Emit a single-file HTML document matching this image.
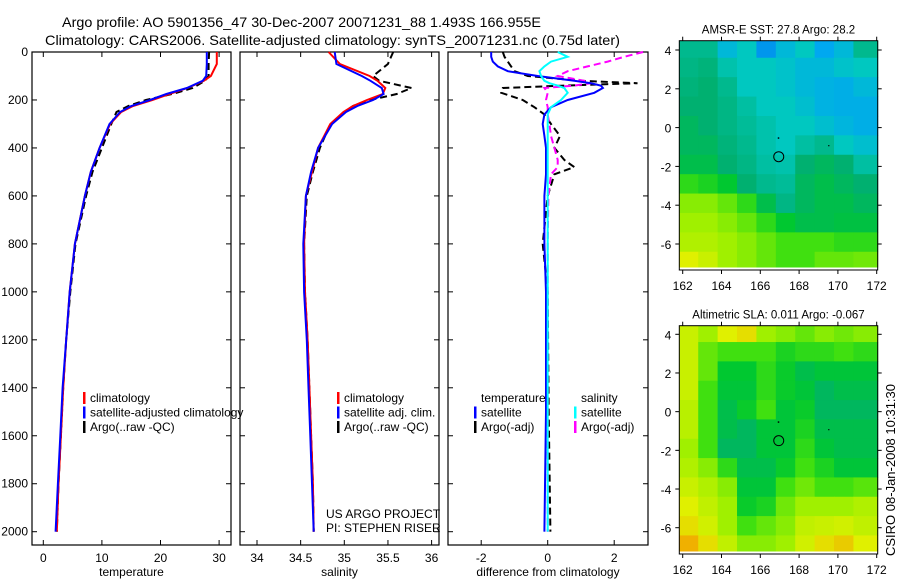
<!DOCTYPE html>
<html><head><meta charset="utf-8">
<style>
html,body{margin:0;padding:0;background:#fff;}
svg{display:block;font-family:"Liberation Sans",Arial,sans-serif;}
</style></head>
<body>
<svg id="fig" width="900" height="580" viewBox="0 0 900 580" xmlns="http://www.w3.org/2000/svg">
<text x="62" y="27" font-size="14" textLength="479" lengthAdjust="spacingAndGlyphs">Argo profile: AO 5901356_47 30-Dec-2007 20071231_88 1.493S 166.955E</text>
<text x="45" y="45" font-size="14" textLength="575" lengthAdjust="spacingAndGlyphs">Climatology: CARS2006. Satellite-adjusted climatology: synTS_20071231.nc (0.75d later)</text>
<text transform="translate(895,470) rotate(-90)" text-anchor="middle" font-size="13">CSIRO 08-Jan-2008 10:31:30</text>
</svg>
<script>
// ---- profile data ----
const depth = [0,50,100,120,150,175,200,225,250,300,400,500,600,800,1000,1200,1400,1600,1800,2000];
const tClim = [29.6,29.6,28.6,27.4,24.6,21.5,18.6,15.3,13.3,11.4,9.6,8.1,7.1,5.4,4.5,3.9,3.4,3.0,2.6,2.3];
const tSat  = [27.9,27.9,27.8,27.2,24.5,21.0,18.2,15.0,13.1,11.3,9.6,8.1,7.1,5.4,4.5,3.9,3.3,2.9,2.5,2.1];
const tArgo = [28.3,28.2,28.2,27.6,25.5,22.0,17.5,14.5,12.5,11.6,10.0,8.4,7.3,5.5,4.6,3.9,3.4,3.0,2.6,2.3];
const sClim = [34.82,34.95,35.29,35.38,35.47,35.44,35.26,35.1,34.99,34.84,34.70,34.63,34.56,34.54,34.55,34.58,34.60,34.62,34.64,34.65];
const sSat  = [34.89,34.91,35.2,35.3,35.43,35.45,35.33,35.15,35.02,34.86,34.70,34.62,34.56,34.53,34.54,34.57,34.59,34.61,34.63,34.65];
const sArgo = [35.56,35.5,35.33,35.4,35.77,35.6,35.3,35.1,35.0,34.84,34.72,34.64,34.57,34.54,34.55,34.58,34.60,34.62,34.64,34.65];
const dDepth = [0,20,40,60,80,100,120,130,140,150,170,200,230,260,300,350,400,450,480,510,600,800,1000,1500,2000];
const dTSat  = [-1.7,-1.7,-1.65,-1.5,-1.2,-0.3,0.8,1.3,1.6,1.66,1.4,0.6,0.1,-0.1,-0.15,-0.1,-0.05,-0.05,-0.05,-0.05,-0.1,-0.1,-0.05,-0.05,-0.1];
const dTArgo = [-1.35,-1.3,-1.2,-1.1,-1.0,-0.6,1.0,2.7,0.5,-1.35,-1.4,-0.75,-0.4,-0.1,0.1,0.37,0.2,0.5,0.8,0.2,0.0,-0.15,0.0,0.03,0.08];
const dSSat  = [0.3,0.6,0.1,-0.1,-0.25,-0.2,-0.1,0.05,0.3,0.5,0.6,0.4,0.1,0,0,0,0,0,0,0,0,0,0,0,0];
const dSArgo = [2.87,2.3,1.8,1.2,0.6,0.3,1.1,1.3,0.8,-0.1,0.0,-0.05,0.0,0.0,0.05,0.1,0.2,0.3,0.3,0.1,0.02,0.0,0.0,0.0,0.0];
const depthTicks = [0,200,400,600,800,1000,1200,1400,1600,1800,2000];
const tempTicks = [0,10,20,30];
const salTicks = [34,34.5,35,35.5,36];
const diffTicks = [-2,0,2];
const lonTicks = [162,164,166,168,170,172];
const latTicks = [4,2,0,-2,-4,-6];
// ---- map data (rows from north to south, 1 deg cells starting 4.5N, cols from 162E) ----
const sstGrid = [
[.55,.55,.45,.5,.38,.45,.5,.4,.45,.55],
[.56,.57,.52,.5,.5,.48,.45,.45,.48,.5],
[.57,.58,.55,.5,.5,.48,.45,.43,.42,.45],
[.58,.58,.56,.53,.5,.5,.47,.43,.42,.42],
[.6,.58,.56,.54,.52,.5,.5,.47,.44,.42],
[.6,.6,.57,.55,.52,.5,.53,.55,.5,.47],
[.62,.62,.58,.56,.53,.52,.58,.6,.58,.53],
[.7,.68,.65,.58,.55,.54,.6,.62,.6,.58],
[.78,.78,.75,.7,.62,.56,.6,.62,.62,.6],
[.8,.8,.78,.75,.7,.65,.62,.62,.63,.63],
[.82,.82,.8,.78,.75,.72,.72,.72,.7,.7],
[.88,.85,.8,.78,.75,.72,.72,.75,.75,.76]];
const slaGrid = [
[.85,.8,.88,.9,.8,.78,.75,.78,.76,.78],
[.85,.75,.72,.72,.72,.68,.7,.7,.72,.7],
[.85,.75,.65,.65,.7,.66,.62,.64,.64,.64],
[.85,.72,.64,.64,.7,.66,.64,.6,.62,.62],
[.83,.72,.62,.66,.72,.64,.66,.6,.6,.6],
[.83,.72,.62,.6,.64,.64,.68,.62,.62,.62],
[.8,.72,.6,.6,.64,.64,.7,.64,.62,.62],
[.82,.78,.7,.62,.62,.66,.72,.68,.64,.64],
[.85,.82,.78,.64,.64,.72,.76,.72,.72,.74],
[.88,.84,.8,.66,.68,.76,.8,.8,.8,.82],
[.9,.86,.8,.72,.75,.78,.84,.85,.86,.84],
[.95,.9,.84,.78,.78,.8,.86,.9,.92,.88]];
const floatLon = [166.95];
const floatLat = [-1.5];

const NS='http://www.w3.org/2000/svg';
const svg=document.getElementById('fig');
function mk(tag,attrs,parent){const e=document.createElementNS(NS,tag);for(const k in attrs)e.setAttribute(k,attrs[k]);(parent||svg).appendChild(e);return e;}
function txt(s,x,y,attrs){const e=mk('text',Object.assign({x:x,y:y,'font-size':12},attrs||{}));e.textContent=s;return e;}

const Y0=52,Y1=545,DPX=(531.7-52)/2000;
const yD=d=>Y0+d*DPX;
const xT=v=>43.3+v*5.86;
const xS=v=>257+(v-34)*87.3;
const xDf=v=>547.7+v*33.25;

function panel(name,left,right,ticks,xf,label,showDepth){
  const g=mk('g',{});
  
  
  const fr=mk('rect',{x:left,y:Y0,width:right-left,height:Y1-Y0,fill:'none',stroke:'#000','stroke-width':1.2},g);
  
  
  ticks.forEach(t=>{const x=xf(t);
    mk('line',{x1:x,y1:Y1,x2:x,y2:Y1-5,stroke:'#000'},g);
    mk('line',{x1:x,y1:Y0,x2:x,y2:Y0+5,stroke:'#000'},g);
    const l=txt(String(t),x,Y1+17,{'text-anchor':'middle'});g.appendChild(l);
    
    
  });
  depthTicks.forEach(d=>{const y=yD(d);
    mk('line',{x1:left,y1:y,x2:left+5,y2:y,stroke:'#000'},g);
    mk('line',{x1:right,y1:y,x2:right-5,y2:y,stroke:'#000'},g);
    if(showDepth){const l=txt(String(d),left-4,y+4,{'text-anchor':'end'});g.appendChild(l);
      
      }
  });
  const xl=txt(label,(left+right)/2,Y1+31,{'text-anchor':'middle'});g.appendChild(xl);
  
  
  return g;
}
function series(name,vals,depths,xf,color,dash,w){
  const pts=vals.map((v,i)=>xf(v).toFixed(1)+','+yD(depths[i]).toFixed(1)).join(' ');
  const p=mk('polyline',{points:pts,fill:'none',stroke:color,'stroke-width':w||2,'stroke-dasharray':dash||'none'});
  
  
}
function legend(items,x,y){
  items.forEach((it,i)=>{
    const yy=y+i*14.5;
    if(it[1]){const b=mk('rect',{x:x,y:yy-10,width:2.5,height:12,fill:it[1]});
      
      }
    const t=txt(it[0],x+7,yy);
    
    
  });
}

panel('temperature-panel',32,231,tempTicks,xT,'temperature',true);
series('temp-argo',tArgo,depth,xT,'#000','7,4',2);
series('temp-climatology',tClim,depth,xT,'#f00','',2);
series('temp-satellite',tSat,depth,xT,'#00f','',2);
legend([['climatology','#f00'],['satellite-adjusted climatology','#00f'],['Argo(..raw -QC)','#000']],83,402);

panel('salinity-panel',240,439,salTicks,xS,'salinity',false);
series('sal-argo',sArgo,depth,xS,'#000','7,4',2);
series('sal-climatology',sClim,depth,xS,'#f00','',2);
series('sal-satellite',sSat,depth,xS,'#00f','',2);
legend([['climatology','#f00'],['satellite adj. clim.','#00f'],['Argo(..raw -QC)','#000']],337,402);
const p1=txt('US ARGO PROJECT',326,518);


const p2=txt('PI: STEPHEN RISER',326,532);



panel('difference-panel',448,648,diffTicks,xDf,'difference from climatology',false);
series('diff-temp-argo',dTArgo,dDepth,xDf,'#000','7,4',2);
series('diff-sal-argo',dSArgo,dDepth,xDf,'#f0f','7,4',2);
series('diff-temp-satellite',dTSat,dDepth,xDf,'#00f','',2);
series('diff-sal-satellite',dSSat,dDepth,xDf,'#0ff','',2);
legend([['temperature',null],['satellite','#00f'],['Argo(-adj)','#000']],474,402);
legend([['salinity',null],['satellite','#0ff'],['Argo(-adj)','#f0f']],574,402);

// ---- maps ----
const stops=[[0.3,[0,80,224]],[0.4,[0,168,240]],[0.5,[0,200,192]],[0.58,[0,176,112]],[0.65,[0,200,48]],[0.72,[64,224,16]],[0.8,[160,240,0]],[0.88,[224,240,0]],[0.95,[240,176,0]],[1,[240,128,0]]];
function cmap(v){
  if(v<=stops[0][0])return 'rgb('+stops[0][1]+')';
  for(let i=1;i<stops.length;i++){if(v<=stops[i][0]){const a=stops[i-1],b=stops[i],f=(v-a[0])/(b[0]-a[0]);
    return 'rgb('+a[1].map((c,k)=>Math.round(c+(b[1][k]-c)*f)).join(',')+')';}}
  return 'rgb('+stops[stops.length-1][1]+')';
}
function mapPanel(name,grid,top,bottom,lat4,latm6,title){
  const L=679.3,R=877.7;
  const lonX=lon=>682.7+(lon-162)*19.4;
  const latY=lat=>lat4+(4-lat)*(latm6-lat4)/10;
  const g=mk('g',{});
  
  
  grid.forEach((row,r)=>row.forEach((v,c)=>{
    const x0=Math.max(L,lonX(161.8+c)),x1=Math.min(R,lonX(162.8+c));
    const y0=Math.max(top,latY(4.6-r)),y1=Math.min(bottom-3,latY(3.6-r));
    const cell=mk('rect',{x:x0,y:y0,width:Math.max(0,(c==9?R:x1)-x0)+0.5,height:Math.max(0,(r==11?bottom-3:y1)-y0)+0.5,fill:cmap(v)},g);
    
    
  }));
  const fr=mk('rect',{x:L,y:top,width:R-L,height:bottom-top,fill:'none',stroke:'#000','stroke-width':1},g);
  
  
  lonTicks.forEach(t=>{const x=lonX(t);
    mk('line',{x1:x,y1:bottom,x2:x,y2:bottom+4,stroke:'#000'},g);
    mk('line',{x1:x,y1:top,x2:x,y2:top-4,stroke:'#000'},g);
    const l=txt(String(t),x,bottom+20,{'text-anchor':'middle'});g.appendChild(l);
    
    });
  latTicks.forEach(t=>{const y=latY(t);
    mk('line',{x1:L,y1:y,x2:L-4,y2:y,stroke:'#000'},g);
    mk('line',{x1:R,y1:y,x2:R+4,y2:y,stroke:'#000'},g);
    const l=txt(String(t),L-8,y+5,{'text-anchor':'end'});g.appendChild(l);
    
    });
  const tt=txt(title,(L+R)/2,top-7,{'text-anchor':'middle','font-size':11.5});g.appendChild(tt);
  
  
  floatLon.forEach((lo,i)=>{const c=mk('circle',{cx:lonX(lo),cy:latY(floatLat[i]),r:5,fill:'none',stroke:'#000','stroke-width':1},g);
    
    });
  mk('rect',{x:lonX(166.9),y:latY(-0.5),width:1.5,height:1.5,fill:'#000'},g);
  mk('rect',{x:lonX(169.5),y:latY(-0.9),width:1.2,height:1.2,fill:'#000'},g);
}
mapPanel('sst-map',sstGrid,40.7,270,50,244,'AMSR-E SST: 27.8 Argo: 28.2');
mapPanel('sla-map',slaGrid,325.7,554,334.3,527.7,'Altimetric SLA: 0.011 Argo: -0.067');
</script>
</body></html>
